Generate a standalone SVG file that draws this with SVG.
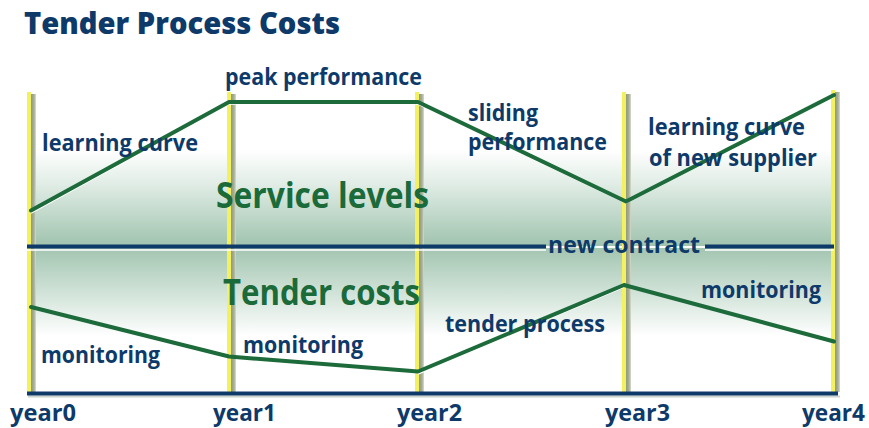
<svg xmlns="http://www.w3.org/2000/svg" width="869" height="428" viewBox="0 0 869 428">
  <defs>
    <linearGradient id="bandTop" x1="0" y1="0" x2="0" y2="1">
      <stop offset="0" stop-color="#ffffff"/>
      <stop offset="0.35" stop-color="#e1ede6"/>
      <stop offset="1" stop-color="#a0c3ae"/>
    </linearGradient>
    <linearGradient id="bandBottom" x1="0" y1="0" x2="0" y2="1">
      <stop offset="0" stop-color="#a3c5b1"/>
      <stop offset="0.6" stop-color="#d9e8df"/>
      <stop offset="1" stop-color="#ffffff"/>
    </linearGradient>
    <linearGradient id="postShade" x1="0" y1="0" x2="1" y2="0">
      <stop offset="0" stop-color="#8f9a7c"/>
      <stop offset="0.6" stop-color="#a7af95"/>
      <stop offset="1" stop-color="#d8ddd0"/>
    </linearGradient>
    <style>
      .lbl { font-family: "Open Sans", "Noto Sans", "Liberation Sans", sans-serif; font-weight: 700; fill: #0e3a6a; }
      .s21 { font-size: 23px; }
      .s22 { font-size: 24px; }
      .big { font-family: "Open Sans", "Noto Sans", "Liberation Sans", sans-serif; font-weight: 700; font-size: 36px; fill: #1b6a3a; }
      .title { font-family: "Open Sans", "Noto Sans", "Liberation Sans", sans-serif; font-weight: 800; font-size: 30px; fill: #0e3a6a; }
      .post { fill: #f4f160; }
      .shade { fill: url(#postShade); }
      .navy { stroke: #0e3a6a; stroke-width: 4; fill: none; }
      .hl { stroke: #ffffff; stroke-width: 1.5; fill: none; }
      .curve { stroke: #1d6b3b; stroke-width: 4; fill: none; stroke-linejoin: round; stroke-linecap: round; }
    </style>
  </defs>

  <rect width="869" height="428" fill="#ffffff"/>

  <!-- shaded bands either side of the contract line -->
  <g id="bands">
    <rect x="31" y="150" width="805" height="96" fill="url(#bandTop)"/>
    <rect x="31" y="248" width="805" height="88" fill="url(#bandBottom)"/>
  </g>

  <!-- year posts: yellow stripe with a grey shadow -->
  <g id="posts">
    <g id="post-year0"><rect class="post" x="27" y="92" width="4" height="300"/><rect class="shade" x="31" y="94" width="5" height="298"/></g>
    <g id="post-year1"><rect class="post" x="227" y="92" width="4" height="300"/><rect class="shade" x="231" y="94" width="5" height="298"/></g>
    <g id="post-year2"><rect class="post" x="415" y="92" width="4" height="300"/><rect class="shade" x="419" y="94" width="5" height="298"/></g>
    <g id="post-year3"><rect class="post" x="622" y="92" width="4" height="300"/><rect class="shade" x="626" y="94" width="5" height="298"/></g>
    <g id="post-year4"><rect class="post" x="831" y="90" width="4" height="302"/><rect class="shade" x="835" y="92" width="5" height="300"/></g>
  </g>

  <!-- contract line and time axis -->
  <g id="connectors">
    <line class="hl" x1="27" y1="250" x2="546" y2="250"/>
    <line class="navy" x1="27" y1="246.5" x2="546" y2="246.5"/>
    <line class="hl" x1="705" y1="250" x2="834" y2="250"/>
    <line class="navy" x1="705" y1="246.5" x2="834" y2="246.5"/>
    <line x1="28" y1="396.5" x2="840" y2="396.5" stroke="#c9d2cc" stroke-width="2"/>
    <line class="navy" x1="27" y1="393.5" x2="838" y2="393.5"/>

    <!-- service level curve -->
    <polyline class="hl" points="31,213 229,104 418,104 626,203 834,97"/>
    <polyline class="curve" points="31,210.5 229,102 418,102 626,201.5 834,95"/>

    <!-- tender cost curve -->
    <polyline class="hl" points="418,374 624,287"/>
    <polyline class="curve" points="31,307 229,356.5 418,371.5 624,285 834,341.5"/>
  </g>

  <!-- title -->
  <g id="title">
    <text class="title" x="24" y="34" textLength="316" lengthAdjust="spacingAndGlyphs">Tender Process Costs</text>
  </g>

  <!-- phase labels -->
  <g id="labels">
    <text class="lbl s21" x="225" y="85" textLength="197" lengthAdjust="spacingAndGlyphs">peak performance</text>
    <text class="lbl s21" x="42" y="151" textLength="156" lengthAdjust="spacingAndGlyphs">learning curve</text>
    <text class="lbl s21" x="468" y="121" textLength="70" lengthAdjust="spacingAndGlyphs">sliding</text>
    <text class="lbl s21" x="468" y="150" textLength="139" lengthAdjust="spacingAndGlyphs">performance</text>
    <text class="lbl s21" x="648" y="135" textLength="157" lengthAdjust="spacingAndGlyphs">learning curve</text>
    <text class="lbl s21" x="649" y="166" textLength="168" lengthAdjust="spacingAndGlyphs">of new supplier</text>
    <text class="lbl s22" x="548" y="253" textLength="152" lengthAdjust="spacingAndGlyphs">new contract</text>
    <text class="lbl s21" x="41" y="363" textLength="119" lengthAdjust="spacingAndGlyphs">monitoring</text>
    <text class="lbl s21" x="243" y="353" textLength="120" lengthAdjust="spacingAndGlyphs">monitoring</text>
    <text class="lbl s21" x="445" y="332" textLength="160" lengthAdjust="spacingAndGlyphs">tender process</text>
    <text class="lbl s21" x="701" y="298" textLength="120" lengthAdjust="spacingAndGlyphs">monitoring</text>
  </g>

  <!-- band headings -->
  <g id="headings">
    <text class="big" x="216" y="208" textLength="213" lengthAdjust="spacingAndGlyphs">Service levels</text>
    <text class="big" x="223" y="305" textLength="197" lengthAdjust="spacingAndGlyphs">Tender costs</text>
  </g>

  <!-- axis labels -->
  <g id="years">
    <text class="lbl s22" x="10" y="421" textLength="66" lengthAdjust="spacingAndGlyphs">year0</text>
    <text class="lbl s22" x="213" y="421" textLength="63" lengthAdjust="spacingAndGlyphs">year1</text>
    <text class="lbl s22" x="397" y="421" textLength="65" lengthAdjust="spacingAndGlyphs">year2</text>
    <text class="lbl s22" x="605" y="421" textLength="65" lengthAdjust="spacingAndGlyphs">year3</text>
    <text class="lbl s22" x="802" y="421" textLength="63" lengthAdjust="spacingAndGlyphs">year4</text>
  </g>
</svg>
